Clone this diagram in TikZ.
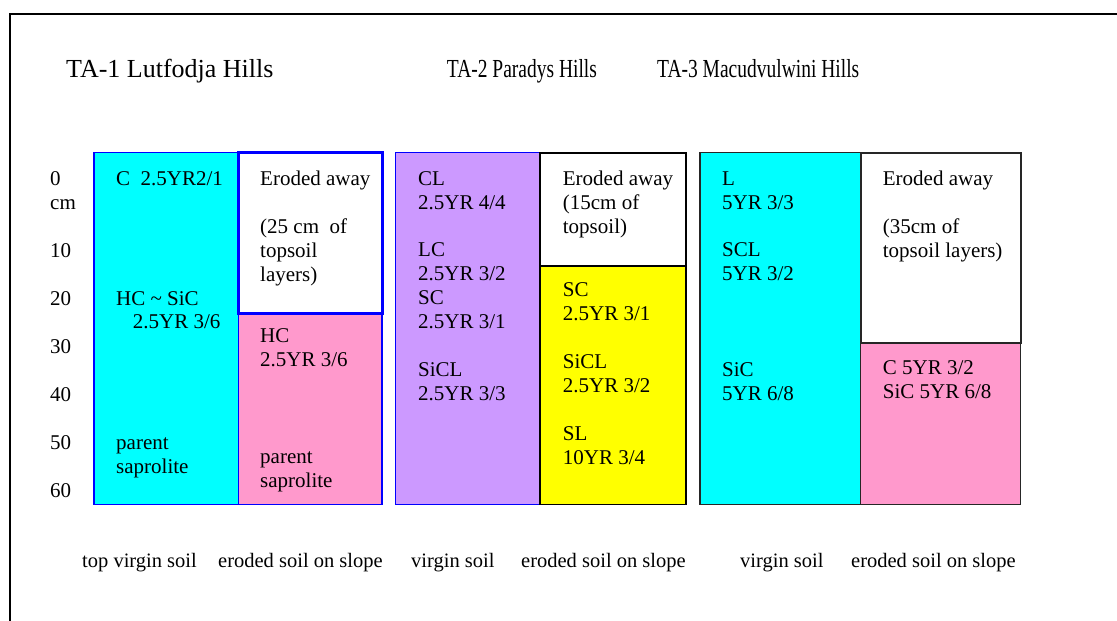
\documentclass[tikz,border=0pt]{standalone}
\usepackage{graphicx}
\usepackage{fontspec}
\setmainfont{Liberation Serif}
\definecolor{cyanc}{RGB}{0,255,255}
\definecolor{pinkc}{RGB}{255,153,204}
\definecolor{purplec}{RGB}{204,153,255}
\definecolor{yellowc}{RGB}{255,255,0}
\definecolor{bluec}{RGB}{0,0,255}
\newcommand\stk[1]{\begin{tabular}[t]{@{}l@{}}#1\end{tabular}}
\tikzset{
  lbl/.style={anchor=base west,inner sep=0pt,font=\fontsize{21}{24}\selectfont},
  ttl/.style={anchor=base west,inner sep=0pt,font=\fontsize{26}{30}\selectfont},
  btm/.style={anchor=base west,inner sep=0pt,font=\fontsize{20.5}{24}\selectfont},
  thinb/.style={line width=1.5pt},
  thickb/.style={line width=3pt},
}
\begin{document}
\begin{tikzpicture}[x=1pt,y=1pt]
\useasboundingbox (0,0) rectangle (1117,-621);
% frame
\draw[line width=2pt] (9.5,-621) -- (9.5,-14) -- (1117,-14);
% titles
\node[ttl] (t1) at (66,-77) {TA-1 Lutfodja Hills};
\node[ttl] (t2) at (446.7,-77) {\scalebox{0.75}[1]{TA-2 Paradys Hills}};
\node[ttl] (t3) at (657,-77) {\scalebox{0.75}[1]{TA-3 Macudvulwini Hills}};
% group 1
\fill[cyanc] (94,-152.7) rectangle (238.3,-504.3);
\fill[pinkc] (238.3,-313.3) rectangle (382,-504.3);
\draw[thinb,bluec] (94,-152.7) rectangle (238.3,-504.3);
\draw[thinb,bluec] (238.3,-313.3) rectangle (382,-504.3);
\draw[thickb,bluec] (238.3,-152.7) rectangle (382,-313.3);
% group 2
\fill[purplec] (395.7,-152.7) rectangle (540,-504.3);
\fill[yellowc] (540,-266) rectangle (686,-504.3);
\draw[thinb,bluec] (395.7,-152.7) rectangle (540,-504.3);
\draw[thinb,black] (540,-266) rectangle (686,-504.3);
\draw[line width=2.2pt,black] (540,-152.7) rectangle (686,-266);
% group 3
\fill[cyanc] (700,-152.7) rectangle (860.7,-504.3);
\fill[pinkc] (860.7,-343.3) rectangle (1020.7,-504.3);
\draw[thinb,black!85] (700,-152.7) rectangle (860.7,-504.3);
\draw[thinb,black!85] (860.7,-343.3) rectangle (1020.7,-504.3);
\draw[line width=2.2pt,black!85] (860.7,-152.7) rectangle (1020.7,-343.3);
% depth labels
\node[lbl] (d0) at (50,-185) {\stk{0\\cm}};
\node[lbl] (d10) at (50,-257) {10};
\node[lbl] (d20) at (50,-305) {20};
\node[lbl] (d30) at (50,-353) {30};
\node[lbl] (d40) at (50,-401) {40};
\node[lbl] (d50) at (50,-449) {50};
\node[lbl] (d60) at (50,-497) {60};
% group 1 texts
\node[lbl] (a1) at (116,-185) {C\ \ 2.5YR2/1};
\node[lbl] (a2) at (116,-305) {HC \textasciitilde\ SiC};
\node[lbl] (a3) at (132.7,-328) {2.5YR 3/6};
\node[lbl] (a4) at (116,-449) {\stk{parent\\saprolite}};
\node[lbl] (a5) at (260,-185) {Eroded away};
\node[lbl] (a6) at (260,-233) {\stk{(25 cm\ \ of\\topsoil\\layers)}};
\node[lbl] (a7) at (260,-342) {\stk{HC\\2.5YR 3/6}};
\node[lbl] (a8) at (260,-463) {\stk{parent\\saprolite}};
% group 2 texts
\node[lbl] (b1) at (418,-185) {\stk{CL\\2.5YR 4/4}};
\node[lbl] (b2) at (418,-256.7) {\stk{LC\\2.5YR 3/2\\SC\\2.5YR 3/1}};
\node[lbl] (b3) at (418,-376.7) {\stk{SiCL\\2.5YR 3/3}};
\node[lbl] (b4) at (562.7,-185) {\stk{Eroded away\\(15cm of\\topsoil)}};
\node[lbl] (b5) at (562.7,-296.7) {\stk{SC\\2.5YR 3/1}};
\node[lbl] (b6) at (562.7,-368.7) {\stk{SiCL\\2.5YR 3/2}};
\node[lbl] (b7) at (562.7,-440.7) {\stk{SL\\10YR 3/4}};
% group 3 texts
\node[lbl] (c1) at (722,-185) {\stk{L\\5YR 3/3}};
\node[lbl] (c2) at (722,-256.7) {\stk{SCL\\5YR 3/2}};
\node[lbl] (c3) at (722,-376.7) {\stk{SiC\\5YR 6/8}};
\node[lbl] (c4) at (882.7,-185) {Eroded away};
\node[lbl] (c5) at (882.7,-233.3) {\stk{(35cm of\\topsoil layers)}};
\node[lbl] (c6) at (882.7,-374.3) {\stk{C 5YR 3/2\\SiC 5YR 6/8}};
% bottom labels
\node[btm] (e1) at (82,-567) {top virgin soil};
\node[btm] (e2) at (218,-567) {eroded soil on slope};
\node[btm] (e3) at (411,-567) {virgin soil};
\node[btm] (e4) at (521,-567) {eroded soil on slope};
\node[btm] (e5) at (740,-567) {virgin soil};
\node[btm] (e6) at (851,-567) {eroded soil on slope};
\end{tikzpicture}
\end{document}
